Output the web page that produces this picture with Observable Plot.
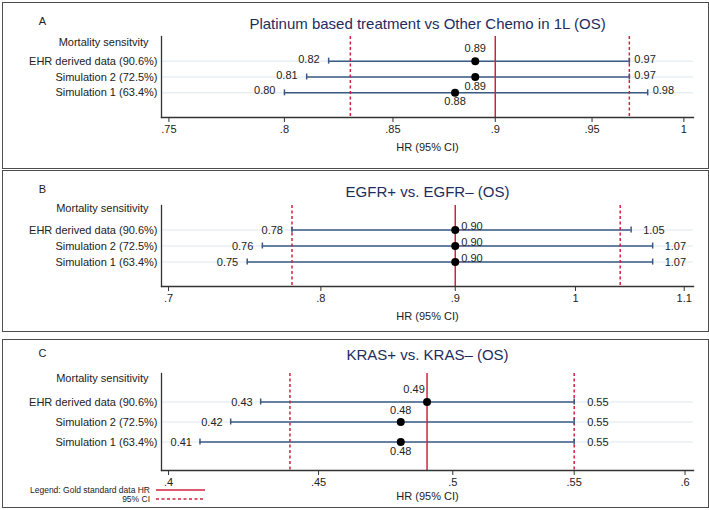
<!DOCTYPE html>
<html><head><meta charset="utf-8">
<script src="https://cdn.jsdelivr.net/npm/d3@7"></script>
<script src="https://cdn.jsdelivr.net/npm/@observablehq/plot@0.6"></script>
<style>
body{margin:0;background:#fff;font-family:"Liberation Sans",Arial,Helvetica,sans-serif;}
#wrap{position:relative;width:709px;height:510px;overflow:hidden;background:#fff;}
.svgbox{position:absolute;left:0;}
.box{position:absolute;left:2px;width:707px;border:1px solid #4d4d4d;box-sizing:border-box;pointer-events:none;z-index:5;}
.leg{position:absolute;left:0;width:150px;text-align:right;font-size:8.5px;color:#222;line-height:10px;z-index:6;}
</style></head><body><div id="wrap"></div>
<script>
// ---- data ----
const rows = ["EHR derived data (90.6%)", "Simulation 2 (72.5%)", "Simulation 1 (63.4%)"];

const titleA = "Platinum based treatment vs Other Chemo in 1L (OS)";
const headerA = "Mortality sensitvity";
const hrA = [0.89, 0.89, 0.88];
const loA = [0.82, 0.81, 0.80];
const hiA = [0.97, 0.97, 0.98];
const goldA = 0.90;
const goldCiA = [0.83, 0.97];
const ticksA = [0.75, 0.8, 0.85, 0.9, 0.95, 1];

const titleB = "EGFR+ vs. EGFR\u2013 (OS)";
const headerB = "Mortality sensitivity";
const hrB = [0.90, 0.90, 0.90];
const loB = [0.78, 0.76, 0.75];
const hiB = [1.05, 1.07, 1.07];
const goldB = 0.90;
const goldCiB = [0.78, 1.04];
const ticksB = [0.7, 0.8, 0.9, 1, 1.1];

const titleC = "KRAS+ vs. KRAS\u2013 (OS)";
const headerC = "Mortality sensitivity";
const hrC = [0.49, 0.48, 0.48];
const loC = [0.43, 0.42, 0.41];
const hiC = [0.55, 0.55, 0.55];
const goldC = 0.49;
const goldCiC = [0.44, 0.55];
const ticksC = [0.4, 0.45, 0.5, 0.55, 0.6];

const xLabel = "HR (95% CI)";
const legendText = ["Legend: Gold standard data HR", "95% CI"];

// ---- style ----
const RED = "#d0223f", CI = "#3a5a84", GRID = "#dce7ef", AX = "#333", NAVY = "#1e2c5e";
const FONT = "Liberation Sans, Arial, Helvetica, sans-serif";
const fmt = d3.format(".2f");
const tickFmt = v => String(v).replace(/^0\./, ".");
const OFF = {above:[0,-13,"middle"], above2:[0,-12,"middle"], below:[0,9,"middle"], right:[6,-4,"start"], aboveLeft:[-13,-13,"middle"]};

function panel(c) {
  const data = rows.map((r, i) => ({row: r, hr: c.hr[i], lo: c.lo[i], hi: c.hi[i], pos: c.hrPos[i]}));
  const hrMarks = Object.keys(OFF).map(k => Plot.text(data.filter(d => d.pos === k), {
    x: "hr", y: "row", text: d => fmt(d.hr), dx: OFF[k][0], dy: OFF[k][1], textAnchor: OFF[k][2], fontSize: 11, fill: "#222"
  }));
  return Plot.plot({
    width: 709, height: c.height,
    marginLeft: 161, marginRight: 16, marginTop: c.mt, marginBottom: c.mb,
    style: {fontFamily: FONT, fontSize: "11px", background: "transparent", overflow: "visible", color: "#222"},
    x: {type: "log", domain: c.domain},
    y: {type: "point", domain: rows, padding: c.pad, round: false},
    marks: [
      Plot.gridY({stroke: GRID, strokeOpacity: 1, strokeWidth: 1}),
      Plot.ruleY(data, {x1: "lo", x2: "hi", y: "row", stroke: CI, strokeWidth: 1.5}),
      Plot.ruleX(c.goldCi, {stroke: RED, strokeWidth: 1.5, strokeDasharray: "3,2.5"}),
      Plot.ruleX([c.gold], {stroke: RED, strokeWidth: 1.5}),
      Plot.ruleX(data, {x: "lo", y1: "row", y2: "row", insetTop: -3, insetBottom: -3, stroke: CI, strokeWidth: 1.5}),
      Plot.ruleX(data, {x: "hi", y1: "row", y2: "row", insetTop: -3, insetBottom: -3, stroke: CI, strokeWidth: 1.5}),
      Plot.dot(data, {x: "hr", y: "row", r: 4, fill: "#000", stroke: "none"}),
      Plot.text(data, {x: "lo", y: "row", text: d => fmt(d.lo), textAnchor: "end", dx: c.loDx, dy: c.ciDy, fontSize: 11, fill: "#222"}),
      Plot.text(data, {x: "hi", y: "row", text: d => fmt(d.hi), textAnchor: "start", dx: c.hiDx, dy: c.ciDy, fontSize: 11, fill: "#222"}),
      ...hrMarks,
      Plot.frame({anchor: "left", stroke: AX, strokeWidth: 1.3}),
      Plot.frame({anchor: "bottom", stroke: AX, strokeWidth: 1.3}),
      Plot.axisX(c.ticks, {ticks: 1000, tickFormat: tickFmt, tickSize: 5, tickPadding: 3, label: null, fontSize: 11, stroke: AX, fill: "#222"}),
      Plot.axisY({tickSize: 0, tickPadding: 4, label: null, fontSize: 11, fill: "#222"}),
      Plot.text([c.title], {text: d => d, frameAnchor: "top", lineAnchor: "middle", dy: c.titleDy, fontSize: 15, fill: NAVY}),
      Plot.text([c.letter], {text: d => d, frameAnchor: "top-left", lineAnchor: "middle", dx: -119, dy: c.letterDy, fontSize: 11, fill: "#222", textAnchor: "middle"}),
      Plot.text([c.header], {text: d => d, frameAnchor: "top-left", lineAnchor: "middle", dx: -13, dy: c.headerDy, fontSize: 11, fill: "#222", textAnchor: "end"}),
      Plot.text([xLabel], {text: d => d, frameAnchor: "bottom", lineAnchor: "middle", dy: c.xlabDy, fontSize: 11, fill: "#222"})
    ]
  });
}

const panels = [
  {letter: "A", title: titleA, header: headerA, hr: hrA, lo: loA, hi: hiA, gold: goldA, goldCi: goldCiA, ticks: ticksA,
   top: 2, boxH: 167, height: 166, mt: 34, mb: 51, pad: 1.555, domain: [0.7469, 1.0054],
   hrPos: ["above", "below", "below"], loDx: -9, hiDx: 5, ciDy: -2, titleDy: -12, letterDy: -15, headerDy: 5.7, xlabDy: 30},
  {letter: "B", title: titleB, header: headerB, hr: hrB, lo: loB, hi: hiB, gold: goldB, goldCi: goldCiB, ticks: ticksB,
   top: 170, boxH: 162, height: 161, mt: 35, mb: 45, pad: 1.53, domain: [0.6957, 1.109],
   hrPos: ["right", "right", "right"], loDx: -9, hiDx: 12, ciDy: 0, titleDy: -13, letterDy: -16, headerDy: 3.3, xlabDy: 29.7},
  {letter: "C", title: titleC, header: headerC, hr: hrC, lo: loC, hi: hiC, gold: goldC, goldCi: goldCiC, ticks: ticksC,
   top: 339, boxH: 169, height: 168, mt: 34, mb: 37, pad: 1.425, domain: [0.3978, 0.604],
   hrPos: ["aboveLeft", "above2", "below"], loDx: -8, hiDx: 13, ciDy: 0, titleDy: -18, letterDy: -19.7, headerDy: 5.3, xlabDy: 26}
];

const wrap = document.getElementById("wrap");
for (const c of panels) {
  const holder = document.createElement("div");
  holder.className = "svgbox";
  holder.style.top = c.top + "px";
  holder.appendChild(panel(c));
  wrap.appendChild(holder);
  const box = document.createElement("div");
  box.className = "box";
  box.style.top = c.top + "px";
  box.style.height = c.boxH + "px";
  wrap.appendChild(box);
}

// legend (panel C)
const l1 = document.createElement("div");
l1.className = "leg"; l1.style.top = "485px"; l1.textContent = legendText[0];
const l2 = document.createElement("div");
l2.className = "leg"; l2.style.top = "494px"; l2.textContent = legendText[1];
wrap.appendChild(l1); wrap.appendChild(l2);
const ns = "http://www.w3.org/2000/svg";
const ls = document.createElementNS(ns, "svg");
ls.setAttribute("width", 52); ls.setAttribute("height", 20);
ls.style.position = "absolute"; ls.style.left = "155px"; ls.style.top = "483px"; ls.style.zIndex = 6;
[[7, null], [16, "3,2.5"]].forEach(([y, dash]) => {
  const ln = document.createElementNS(ns, "line");
  ln.setAttribute("x1", 1); ln.setAttribute("x2", 50); ln.setAttribute("y1", y); ln.setAttribute("y2", y);
  ln.setAttribute("stroke", RED); ln.setAttribute("stroke-width", 1.5);
  if (dash) ln.setAttribute("stroke-dasharray", dash);
  ls.appendChild(ln);
});
wrap.appendChild(ls);
</script>
</body></html>
